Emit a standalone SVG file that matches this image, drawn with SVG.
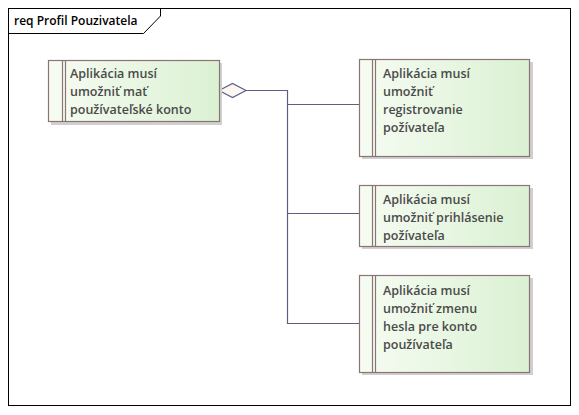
<svg xmlns="http://www.w3.org/2000/svg" width="579" height="415" viewBox="0 0 579 415">
<defs>
<linearGradient id="g" x1="0" y1="0" x2="1" y2="0">
<stop offset="0" stop-color="#f6fcf3"/>
<stop offset="1" stop-color="#dbf1d3"/>
</linearGradient>
<style>
.box{fill:url(#g);stroke:#8c7474;stroke-width:1.2}
.sh{fill:#d0d0d0}
.bar{stroke:#8c7474;stroke-width:1.2;fill:none}
.t{font-family:"Open Sans","Noto Sans",sans-serif;font-weight:600;font-size:12.5px;fill:#4a4a4a}
.c{stroke:#5c6183;stroke-width:1.2;fill:none}
</style>
</defs>
<rect x="0" y="0" width="579" height="415" fill="#ffffff"/>
<g id="frame">
<rect x="8.5" y="8.5" width="562" height="397" fill="#ffffff" stroke="#000000" stroke-width="1"/>
<path d="M8.5,33.5 H143.5 L160.5,16 V8.5" fill="none" stroke="#000000" stroke-width="1"/>
<text x="14" y="25" font-family="'Open Sans','Noto Sans',sans-serif" font-weight="600" font-size="12px" fill="#000000">req Profil Pouzivatela</text>
</g>
<g id="connectors">
<polyline class="c" points="246,90.5 287.5,90.5 287.5,323.5 360,323.5"/>
<polyline class="c" points="287.5,104.5 360,104.5"/>
<polyline class="c" points="287.5,213.5 360,213.5"/>
<polygon points="219,90.5 232.5,83.5 246,90.5 232.5,97.5" fill="#fdf6f2" stroke="#5c6183" stroke-width="1.2"/>
</g>
<g id="n1">
<rect class="sh" x="51" y="63" width="171" height="62"/>
<rect class="box" x="48.5" y="60.5" width="171" height="61"/>
<path class="bar" d="M62.5,60.5 V121.5 M65.5,60.5 V121.5"/>
<text class="t" x="70" y="78">Aplikácia musí</text>
<text class="t" x="70" y="96">umožniť mať</text>
<text class="t" x="70" y="114">používateľské konto</text>
</g>
<g id="n2">
<rect class="sh" x="362" y="62" width="171" height="97"/>
<rect class="box" x="359.5" y="59.5" width="170" height="97"/>
<path class="bar" d="M372.5,59.5 V156.5 M375.5,59.5 V156.5"/>
<text class="t" x="383" y="78">Aplikácia musí</text>
<text class="t" x="383" y="96">umožniť</text>
<text class="t" x="383" y="114">registrovanie</text>
<text class="t" x="383" y="132">požívateľa</text>
</g>
<g id="n3">
<rect class="sh" x="362" y="188" width="171" height="61"/>
<rect class="box" x="359.5" y="185.5" width="170" height="61"/>
<path class="bar" d="M372.5,185.5 V246.5 M375.5,185.5 V246.5"/>
<text class="t" x="383" y="204">Aplikácia musí</text>
<text class="t" x="383" y="222">umožniť prihlásenie</text>
<text class="t" x="383" y="240">požívateľa</text>
</g>
<g id="n4">
<rect class="sh" x="362" y="278" width="171" height="97"/>
<rect class="box" x="359.5" y="275.5" width="170" height="97"/>
<path class="bar" d="M372.5,275.5 V372.5 M375.5,275.5 V372.5"/>
<text class="t" x="383" y="295">Aplikácia musí</text>
<text class="t" x="383" y="313">umožniť zmenu</text>
<text class="t" x="383" y="331">hesla pre konto</text>
<text class="t" x="383" y="349">používateľa</text>
</g>
</svg>
